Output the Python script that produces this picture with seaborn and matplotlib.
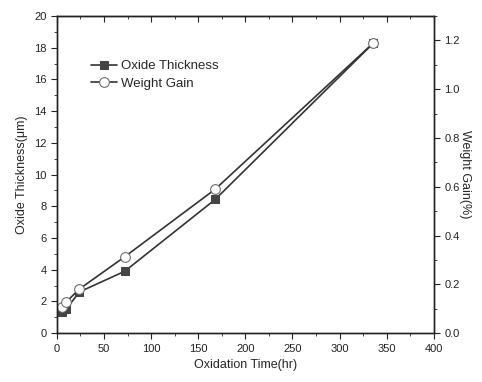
import matplotlib
matplotlib.use("Agg")
import matplotlib.pyplot as plt
from matplotlib.ticker import MultipleLocator
import seaborn as sns
import pandas as pd

# data
time_hr = [5, 10, 24, 72, 168, 336]
oxide_thickness = [1.35, 1.53, 2.6, 3.9, 8.43, 18.3]
weight_gain = [0.108, 0.128, 0.181, 0.313, 0.59, 1.19]

df = pd.DataFrame({"Time": time_hr, "Oxide": oxide_thickness, "Weight": weight_gain})

sns.set_style("ticks")
plt.rcParams["font.family"] = ["Liberation Sans", "DejaVu Sans"]

fig = plt.figure(figsize=(4.82, 3.82), dpi=100)
ax = fig.add_axes([0.118, 0.128, 0.782, 0.830])
ax2 = ax.twinx()

sns.lineplot(data=df, x="Time", y="Oxide", ax=ax, color="#333333", lw=1.2,
             marker="s", markersize=5.5, markerfacecolor="#444444",
             markeredgecolor="#444444", label="Oxide Thickness", legend=False)
sns.lineplot(data=df, x="Time", y="Weight", ax=ax2, color="#333333", lw=1.2,
             marker="o", markersize=7, markerfacecolor="white",
             markeredgecolor="#666666", label="Weight Gain", legend=False)

ax.set_xlim(0, 400)
ax.set_ylim(0, 20)
ax2.set_ylim(0, 1.3)

ax.xaxis.set_major_locator(MultipleLocator(50))
ax.xaxis.set_minor_locator(MultipleLocator(25))
ax.yaxis.set_major_locator(MultipleLocator(2))
ax.yaxis.set_minor_locator(MultipleLocator(1))
ax2.yaxis.set_major_locator(MultipleLocator(0.2))
ax2.yaxis.set_minor_locator(MultipleLocator(0.1))

for a in (ax, ax2):
    a.tick_params(which="major", length=4, width=0.8, labelsize=8, colors="#222222")
    a.tick_params(which="minor", length=2, width=0.6)
    for s in a.spines.values():
        s.set_linewidth(1.0)
        s.set_color("#222222")

top = ax.secondary_xaxis("top")
top.xaxis.set_major_locator(MultipleLocator(50))
top.xaxis.set_minor_locator(MultipleLocator(25))
top.tick_params(which="major", direction="in", length=4, labeltop=False)
top.tick_params(which="minor", direction="in", length=2)

ax.set_xlabel("Oxidation Time(hr)", fontsize=9)
ax.set_ylabel("Oxide Thickness(\u03bcm)", fontsize=9)
ax2.set_ylabel("Weight Gain(%)", fontsize=9, rotation=270, labelpad=8)

h1, l1 = ax.get_legend_handles_labels()
h2, l2 = ax2.get_legend_handles_labels()
ax.legend(h1 + h2, l1 + l2, loc="upper left", bbox_to_anchor=(0.065, 0.89),
          frameon=False, fontsize=9.5, handlelength=2.0, handletextpad=0.3,
          labelspacing=0.4, borderpad=0.2)

fig.savefig("out.png", dpi=100)
